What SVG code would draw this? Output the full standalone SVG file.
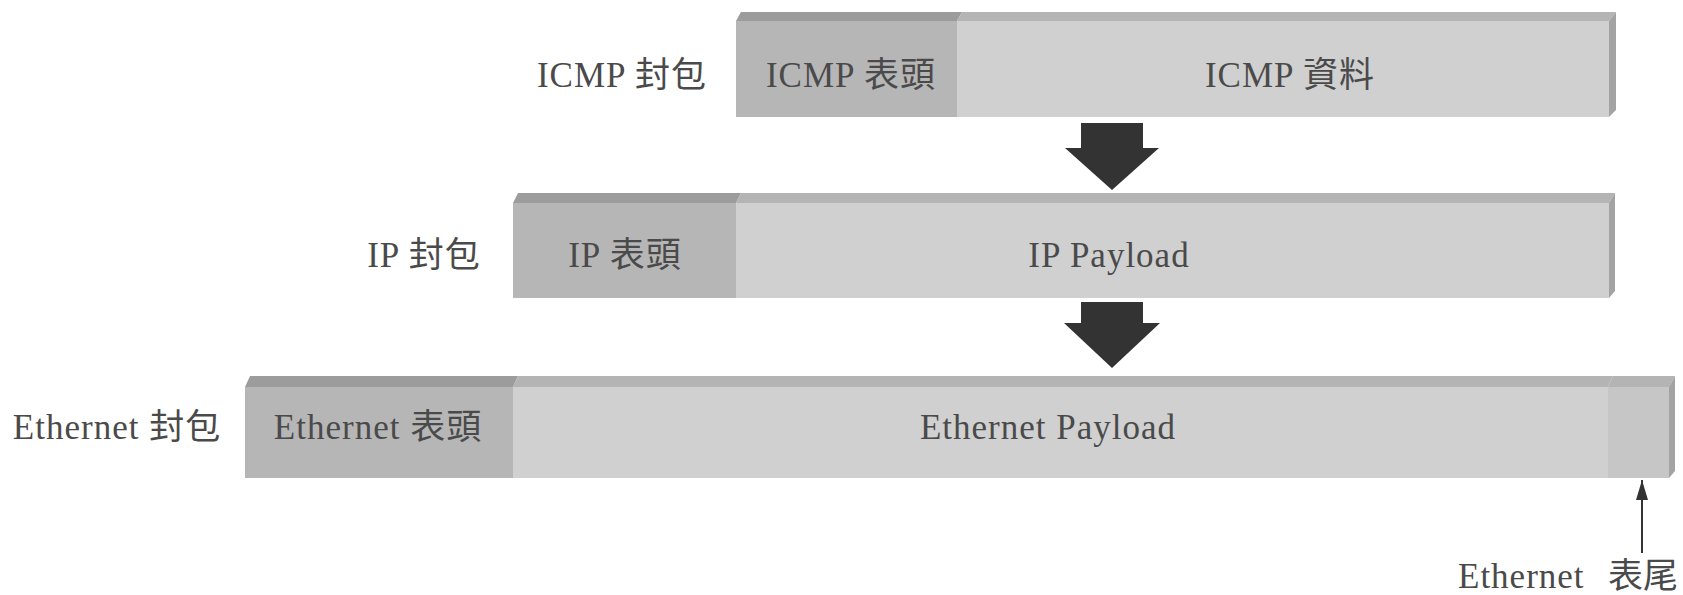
<svg xmlns="http://www.w3.org/2000/svg" width="1683" height="595" viewBox="0 0 1683 595">
<style>
text{font-family:"Liberation Serif","Noto Sans CJK TC",serif;font-size:35px;fill:#4a4a4a;letter-spacing:1px;text-anchor:middle}
.hf{fill:#b6b6b6}.ht{fill:#9c9c9c}
.df{fill:#d0d0d0}.dt{fill:#b4b4b4}
.sd{fill:#a3a3a3}
.tf{fill:#c6c6c6}
.big{fill:#333}
</style>
<defs>
<marker id="ah" markerWidth="20" markerHeight="12" refX="20" refY="6" orient="auto" markerUnits="userSpaceOnUse" viewBox="0 0 20 12">
<path d="M0 0 L20 6 L0 12 Z" fill="#333"/>
</marker>
</defs>
<rect width="1683" height="595" fill="#fff"/>

<g id="icmp-packet">
<text x="622" y="87">ICMP 封包</text>
</g>
<g id="icmp-header">
<polygon class="ht" points="736,21 741,12 962,12 957,21"/>
<rect class="hf" x="736" y="21" width="221" height="96"/>
<text x="851" y="87">ICMP 表頭</text>
</g>
<g id="icmp-data">
<polygon class="dt" points="957,21 962,12 1616,12 1609,21"/>
<rect class="df" x="957" y="21" width="652" height="96"/>
<polygon class="sd" points="1609,21 1616,12 1616,110 1609,117"/>
<text x="1290" y="87">ICMP 資料</text>
</g>

<g id="ip-packet">
<text x="424" y="267">IP 封包</text>
</g>
<g id="ip-header">
<polygon class="ht" points="513,203 518,193 741,193 736,203"/>
<rect class="hf" x="513" y="203" width="223" height="95"/>
<text x="625" y="267">IP 表頭</text>
</g>
<g id="ip-payload">
<polygon class="dt" points="736,203 741,193 1615,193 1609,203"/>
<rect class="df" x="736" y="203" width="873" height="95"/>
<polygon class="sd" points="1609,203 1615,193 1615,291 1609,298"/>
<text x="1109" y="267">IP Payload</text>
</g>

<g id="eth-packet">
<text x="117" y="439">Ethernet 封包</text>
</g>
<g id="eth-header">
<polygon class="ht" points="245,387 250,376 518,376 513,387"/>
<rect class="hf" x="245" y="387" width="268" height="91"/>
<text x="378" y="439">Ethernet 表頭</text>
</g>
<g id="eth-payload">
<polygon class="dt" points="513,387 518,376 1613,376 1608,387"/>
<rect class="df" x="513" y="387" width="1095" height="91"/>
<text x="1048" y="439">Ethernet Payload</text>
</g>
<g id="eth-trailer">
<polygon class="dt" points="1608,387 1613,376 1675,376 1669,387"/>
<rect class="tf" x="1608" y="387" width="61" height="91"/>
<polygon class="sd" points="1669,387 1675,376 1675,471 1669,478"/>
</g>
<g id="eth-trailer-label">
<text x="1458" y="588" style="text-anchor:start">Ethernet <tspan x="1608" style="letter-spacing:0">表尾</tspan></text>
</g>

<g id="connectors">
<polygon class="big" points="1081,123 1143,123 1143,148 1159,148 1112,190 1065,148 1081,148"/>
<polygon class="big" points="1081,302 1143,302 1143,323 1160,323 1112,368 1064,323 1081,323"/>
<line x1="1642" y1="553" x2="1642" y2="480" stroke="#333" stroke-width="2" marker-end="url(#ah)"/>
</g>
</svg>
